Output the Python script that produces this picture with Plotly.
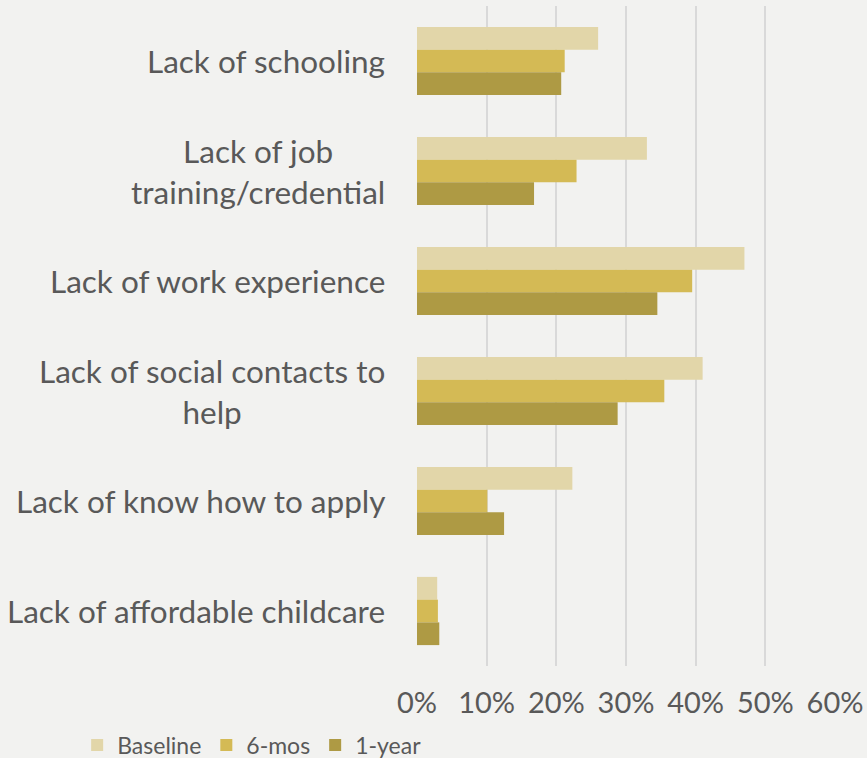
import plotly.graph_objects as go

# Barriers to employment, share of respondents at each survey wave
categories = [
    "Lack of schooling",
    "Lack of job<br>training/credential",
    "Lack of work experience",
    "Lack of social contacts to<br>help",
    "Lack of know how to apply",
    "Lack of affordable childcare",
]
baseline = [0.260, 0.330, 0.470, 0.410, 0.223, 0.029]
six_mos = [0.212, 0.229, 0.395, 0.355, 0.101, 0.030]
one_year = [0.207, 0.168, 0.345, 0.288, 0.125, 0.032]
x_ticks = [0, 0.1, 0.2, 0.3, 0.4, 0.5, 0.6]
x_tick_labels = ["0%", "10%", "20%", "30%", "40%", "50%", "60%"]

FONT = "Lato, 'Open Sans', sans-serif"
TEXT = "#595959"
BG = "#f2f2f0"

series = [
    ("Baseline", baseline, "#e2d6a9"),
    ("6-mos", six_mos, "#d4ba55"),
    ("1-year", one_year, "#ae9a44"),
]

fig = go.Figure()
for name, vals, color in series:
    fig.add_trace(go.Bar(
        name=name,
        x=vals,
        y=categories,
        orientation="h",
        marker=dict(color=color, line=dict(width=0)),
    ))

# Category labels: right-aligned block, each line centred within it
for cat in categories:
    fig.add_annotation(
        x=0, xref="paper", y=cat, yref="y",
        text=cat, showarrow=False,
        xanchor="right", yanchor="middle", align="center",
        xshift=-30,
        font=dict(family=FONT, size=31.5, color=TEXT),
    )

fig.update_layout(
    width=867, height=758,
    margin=dict(l=417, r=32, t=6, b=92, autoexpand=False),
    paper_bgcolor=BG, plot_bgcolor=BG,
    barmode="group", bargap=0.38, bargroupgap=0,
    font=dict(family=FONT, color=TEXT),
    legend=dict(
        orientation="h", x=0.089, xref="container", y=0.017, yref="container",
        xanchor="left", yanchor="middle",
        font=dict(family=FONT, size=23, color=TEXT),
        traceorder="normal", itemwidth=30,
        bgcolor="rgba(0,0,0,0)",
    ),
    xaxis=dict(
        range=[0, 0.6], tickvals=x_ticks, ticktext=x_tick_labels,
        showgrid=True, gridcolor="#d9d9d9", gridwidth=1.5,
        zeroline=False, showline=False, ticks="",
        tickfont=dict(family=FONT, size=29, color=TEXT),
        ticklabelstandoff=17,
    ),
    yaxis=dict(
        categoryorder="array", categoryarray=categories,
        autorange="reversed", showticklabels=False,
        showgrid=False, zeroline=False, showline=False, ticks="",
    ),
)

fig.write_html("out.html")
